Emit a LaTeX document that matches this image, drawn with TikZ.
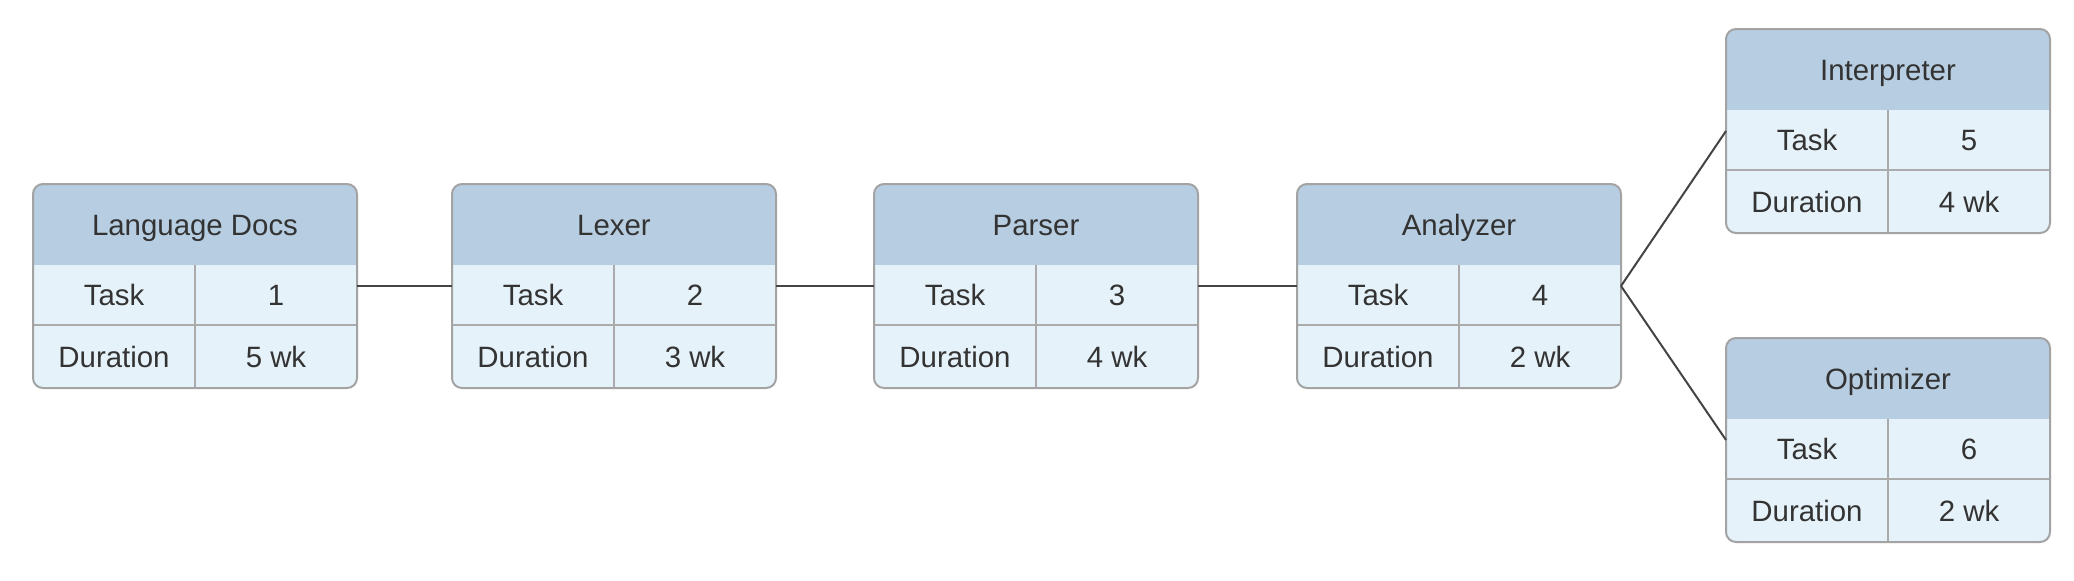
\documentclass[tikz,border=0pt]{standalone}
\usepackage{fontspec}
\setmainfont{Liberation Sans}
\definecolor{headc}{HTML}{B7CDE1}
\definecolor{bodyc}{HTML}{E6F2F9}
\definecolor{borderc}{HTML}{A3A3A3}
\definecolor{gridc}{HTML}{ABABAB}
\definecolor{txtc}{HTML}{333333}
\definecolor{connc}{HTML}{444444}
\tikzset{
  boxframe/.style={draw=borderc, line width=1pt, rounded corners=5pt, minimum width=162pt, minimum height=102pt, inner sep=0pt, outer sep=0pt, anchor=north west},
  gridline/.style={draw=gridc, line width=1pt},
  lbl/.style={text=txtc, font=\fontsize{14.7pt}{17pt}\selectfont, anchor=base, inner sep=0pt},
  conn/.style={draw=connc, line width=1pt}
}
\newcommand\taskbox[6]{%
  \begin{scope}
    \clip[rounded corners=5pt] (#2,#3) rectangle ++(324,204);
    \fill[bodyc] (#2,#3) rectangle ++(324,204);
    \fill[headc] (#2,#3) rectangle ++(324,81);
  \end{scope}
  \draw[gridline] (#2,#3+141) -- ++(324,0);
  \draw[gridline] (#2+162,#3+81) -- ++(0,123);
  \node[boxframe] (#1) at (#2,#3) {};
  \node[lbl] (#1-title) at (#2+162,#3+51) {#4};
  \node[lbl] (#1-tk) at (#2+81,#3+121.5) {Task};
  \node[lbl] (#1-tv) at (#2+243,#3+121.5) {#5};
  \node[lbl] (#1-dk) at (#2+81,#3+183) {Duration};
  \node[lbl] (#1-dv) at (#2+243,#3+183) {#6};
}
\begin{document}
\begin{tikzpicture}[x=0.5pt,y=-0.5pt]
\useasboundingbox (0,0) rectangle (2074,580);
\taskbox{ld}{33}{184}{Language Docs}{1}{5 wk}
\taskbox{lx}{452}{184}{Lexer}{2}{3 wk}
\taskbox{pa}{874}{184}{Parser}{3}{4 wk}
\taskbox{an}{1297}{184}{Analyzer}{4}{2 wk}
\taskbox{in}{1726}{29}{Interpreter}{5}{4 wk}
\taskbox{op}{1726}{338}{Optimizer}{6}{2 wk}
\draw[conn] (ld.east) -- (lx.west);
\draw[conn] (lx.east) -- (pa.west);
\draw[conn] (pa.east) -- (an.west);
\draw[conn] (an.east) -- (in.west);
\draw[conn] (an.east) -- (op.west);
\end{tikzpicture}
\end{document}
